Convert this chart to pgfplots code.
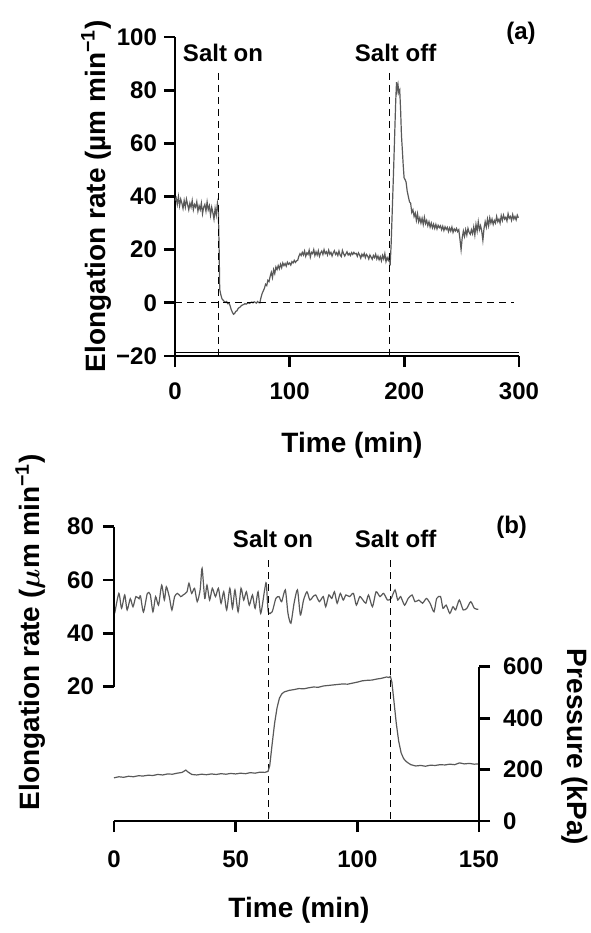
\documentclass[border=0pt]{standalone}
\usepackage{amsmath}
\usepackage{fontspec}
\setmainfont{Liberation Sans}
\usepackage{pgfplots}
\pgfplotsset{compat=1.18}

% panel (a): elongation rate, 0-300 min
\pgfplotstableread{
t r
0 38.5
1 39.5
2 37
3 40
4 36.5
5 39
6 37.5
7 35.5
8 38.5
9 36
10 39
11 37
12 35
13 37.5
14 36
15 38.5
16 35
17 37
18 36
19 38
20 34.5
21 36.5
22 35
23 37.5
24 33.5
25 36
26 37
27 34.5
28 38
29 35
30 36.5
31 33
32 36
33 34
34 31.5
35 35.5
36 33
37 37.5
37.8 35
38.5 20
39 5
40 3
41 1.5
42 1
43 0.5
44 0.2
45 0.5
46 -0.3
47 0
48 -1
49 -2.5
50 -3.5
51 -4.3
52 -4
53 -3.2
54 -3
55 -2.2
56 -1.8
57 -1.5
58 -1
59 -0.8
60 -0.6
61 -0.3
62 -0.5
63 -0.2
64 0
65 -0.2
66 0.1
67 0.3
68 0
69 0.4
70 0.2
71 -0.1
72 0.5
73 0.1
74 0
75 2
76 3.5
77 4.5
78 5.5
79 7
80 6.5
81 8.5
82 8
83 10
84 11.5
85 9.5
86 12.5
87 11
88 13.5
89 12.5
90 14
91 12.8
92 14.5
93 13.2
94 15
95 14
96 14.8
97 13.8
98 15.3
99 14.5
100 15
101 14.2
102 15.5
103 15
104 16
105 15.2
106 15.8
107 16
108 17.5
109 18.5
110 17.8
111 19
112 18
113 19.5
114 17.5
115 18.8
116 18.2
117 19.8
118 17.2
119 19
120 18.5
121 20
122 17.8
123 19.2
124 18
125 19.6
126 17.5
127 18.8
128 19.5
129 18.2
130 20
131 18.5
132 19.2
133 18
134 19.8
135 18.3
136 19
137 17.6
138 18.8
139 19.6
140 18.2
141 18.9
142 17.8
143 19.5
144 18
145 17.4
146 19.7
147 18.5
148 17.6
149 18.4
150 19.2
151 18
152 18.6
153 17.8
154 18.9
155 18.2
156 19
157 18.4
158 18.6
159 17.5
160 18.8
161 18
162 16.8
163 18.3
164 17.5
165 18.6
166 17
167 18.2
168 17.6
169 16.5
170 18
171 17.2
172 16.4
173 17.8
174 17
175 18.3
176 16.5
177 17.6
178 16.2
179 17.4
180 15.8
181 17.8
182 16.5
183 18.5
184 15.5
185 17
186 16
187 17.5
187.6 14
188.5 22
189.5 35
190.5 48
191.5 62
192.5 76
193.2 83
193.8 80
194.5 82
195.2 79
196 80
196.8 72
197.5 63
198.2 58
199 52
199.8 47
200.5 46.5
201.5 45.5
202.5 42
203.5 40
204.5 38
205.5 37.5
206.5 34
207.5 35
208.5 32.5
209.5 33.8
210.5 31
211.5 33.5
212.5 30.5
213.5 32
214.5 30
215.5 31.8
216.5 29.5
217.5 32.2
218.5 29.8
219.5 31
220.5 29
221.5 30.5
222.5 28.5
223.5 30
224.5 28.2
225.5 29.6
226.5 28
227.5 29.5
228.5 27.8
229.5 29.2
230.5 28.3
231.5 29
232.5 27.5
233.5 28.8
234.5 27.2
235.5 28.6
236.5 27.6
237.5 28.4
238.5 26.8
239.5 28.2
240.5 27
241.5 28.5
242.5 26.5
243.5 27.8
244.5 27
245.5 28
246.5 26.8
247.5 27.5
248.5 24
249.5 20
250.5 24.5
251.5 27
252.5 25
253.5 27.5
254.5 25.5
255.5 28
256.5 26.5
257.5 25.8
258.5 27.5
259.5 26
260.5 28.5
261.5 25.5
262.5 29.5
263.5 27
264.5 30.5
265.5 27.5
266.5 29
267.5 27
268.5 23.5
269.5 28
270.5 30.5
271.5 28.5
272.5 31.5
273.5 29
274.5 32
275.5 30
276.5 31.5
277.5 29.5
278.5 31
279.5 30
280.5 32.5
281.5 30.5
282.5 31.5
283.5 30
284.5 32.8
285.5 31
286.5 33
287.5 31.5
288.5 32.2
289.5 30.8
290.5 33.5
291.5 31.8
292.5 32.5
293.5 31
294.5 33.2
295.5 31.5
296.5 32.5
297.5 31.2
298.5 33
299.5 32
}\rateA

% panel (b): elongation rate, 0-150 min
\pgfplotstableread{
t r
0.3 47.5
2 55
3.1 49.4
4.4 54.4
5.4 48.8
6.7 53
7.8 50
9 53.8
10.3 53
10.9 54
12.1 48
13.7 55
14.9 54.6
16 48.1
17.1 53.8
18.3 50.6
19.6 58.1
20.7 52.5
21.5 57.5
22.7 53.8
23.8 48.8
24.9 53.8
26.1 55
27.4 53.8
28.4 54.4
30 55.6
30.8 58.8
31.9 55
33.1 56.9
34.2 51.9
35.4 56.3
36.2 64.4
37.3 53.1
38.2 58.1
39.3 52.5
40.4 56.9
41.7 53.8
42.9 56.9
44 51.3
45.1 55.6
46.3 48.8
47.6 56.9
48.7 49.4
49.7 56.3
51 48.1
52.2 56.9
53.3 52.5
54.4 55.6
55.6 50.6
56.9 54.4
58 49.4
59.2 55.6
60.3 47.5
61.9 56.3
62.6 58.8
63.4 48.1
65 48.1
66.5 53.1
67.8 53.8
68.9 51.9
70.4 56.3
71.5 47.5
72.7 43.8
74 51.3
75.4 56.3
76.6 46.9
77.9 52.5
79.3 55.6
80.5 52.5
81.8 53.8
82.9 54.4
84.4 51.9
86 53.8
87 50
88.3 54.4
89.5 53.1
90.6 55.6
91.7 51.3
93 55
94.2 52.5
95.3 54.4
96.8 53.8
98.4 55
99.6 50.6
101 53.8
102.3 52.5
103.5 51.3
104.6 54.4
106.2 50
107.7 55.6
109.3 53.8
110.8 55
112.4 52.5
113.9 53.1
115.5 56.3
116.6 52.5
117.8 53.8
119.4 50.6
120.9 53.1
122.5 54.4
123.7 51.9
125.3 52.5
126.8 51.3
128.4 53.1
129.9 51.3
131.5 48.1
132.6 53.1
134.2 53.8
135.2 49.4
136.5 50.6
138 47.5
139.3 50
140.4 48.8
141.9 52.5
143.5 48.8
145 49.4
146.6 51.9
148.1 49.4
149.7 49
}\rateB

% panel (b): pressure (kPa)
\pgfplotstableread{
t p
0 168
2 172
4 170
6 174
8 172
10 176
12 175
14 178
16 177
18 181
20 179
22 183
24 182
26 186
28 189
29.5 198
30.5 190
32 181
34 179
36 182
38 180
40 183
42 181
44 184
46 182
48 185
50 183
52 186
54 184
56 188
58 186
60 190
62 189
63.3 193
64 215
65 300
66 380
67 440
68 478
69 495
70 502
72 508
74 511
76 515
78 514
80 518
82 521
84 520
86 525
88 527
90 529
92 531
94 533
96 532
98 536
100 540
102 545
104 547
106 548
108 552
110 555
112 560
113 558
113.6 562
114.2 540
115 470
116 380
117 310
118 265
119 243
120 232
121 225
122 219
124 214
126 216
128 213
130 217
132 216
134 219
136 218
138 221
140 219
142 226
144 222
146 224
148 221
150 222
}\press

\begin{document}
\begin{tikzpicture}
\path[use as bounding box] (0,0) rectangle (295pt,-466.5pt);
\pgfplotsset{
  base/.style={scale only axis, clip=false,
    axis line style={line width=1.4pt},
    tick style={line width=1.4pt,black},
    major tick length=5.5pt, tick align=outside,
    ticklabel style={font=\fontsize{12}{14}\selectfont\bfseries},
    /pgf/number format/assume math mode=true},
}
\tikzset{
  trace/.style={black!65, line width=0.6pt},
  dsh/.style={black, line width=0.5pt, dash pattern=on 3.5pt off 2.5pt},
}

% ---- (a)
\begin{axis}[base, at={(87.5pt,-178pt)}, anchor=south west,
  width=172pt, height=159.5pt,
  xmin=0, xmax=300, ymin=-20, ymax=100,
  axis x line*=bottom, axis y line*=left,
  xticklabel style={yshift=-4.5pt},
  xtick={0,100,200,300}, ytick={-20,0,20,40,60,80,100},
  yticklabels={−20,0,20,40,60,80,100}]
\addplot[trace] table[x=t,y=r] {\rateA};
\draw[dsh] (axis cs:0,0) -- (axis cs:296,0);
\draw[dsh] (axis cs:38,86.5) -- (axis cs:38,-20);
\draw[dsh] (axis cs:187.5,86.5) -- (axis cs:187.5,-20);
\draw[line width=0.6pt] (axis cs:0,-18.8) -- (axis cs:300,-18.8);
\end{axis}

% ---- (b) left: elongation rate
\begin{axis}[base, at={(57pt,-410.5pt)}, anchor=south west,
  width=182.5pt, height=147.15pt,
  xmin=0, xmax=150, ymin=-30.36, ymax=80,
  axis x line*=bottom, axis y line*=left,
  y axis line style={draw=none},
  xticklabel style={yshift=-6pt},
  yticklabel style={xshift=-1pt},
  xtick={0,50,100,150}, ytick={20,40,60,80}]
\addplot[trace, smooth, tension=0.4] table[x=t,y=r] {\rateB};
\draw[line width=1.4pt] (axis cs:0,20) -- (axis cs:0,80);
\draw[dsh] (axis cs:63.3,67.5) -- (axis cs:63.3,-30.36);
\draw[dsh] (axis cs:113.6,67.5) -- (axis cs:113.6,-30.36);
\end{axis}

% ---- (b) right: pressure
\begin{axis}[base, at={(57pt,-410.5pt)}, anchor=south west,
  width=182.5pt, height=147.15pt,
  xmin=0, xmax=150, ymin=0, ymax=1144.3,
  axis x line=none, axis y line*=right,
  y axis line style={draw=none},
  yticklabel style={xshift=3pt},
  ytick={0,200,400,600}]
\addplot[trace] table[x=t,y=p] {\press};
\draw[line width=1.4pt] (axis cs:150,0) -- (axis cs:150,600);
\end{axis}

% labels
\begin{scope}[every node/.style={font=\fontsize{12}{14}\selectfont\bfseries}]
\node at (111.5pt,-26.5pt) {Salt on};
\node at (197.8pt,-26.5pt) {Salt off};
\node at (260.5pt,-16.5pt) {(a)};
\node at (136.5pt,-269.5pt) {Salt on};
\node at (197.8pt,-269.5pt) {Salt off};
\node at (255.8pt,-263.5pt) {(b)};
\end{scope}
\begin{scope}[every node/.style={font=\fontsize{14}{16}\selectfont\bfseries}]
\node[rotate=90] at (48pt,-98pt) {Elongation rate (µm min\textsuperscript{−1})};
\node at (176pt,-222.5pt) {Time (min)};
\node[rotate=90] at (15.2pt,-316pt) {Elongation rate ($\boldsymbol{\mu}$m min\textsuperscript{−1})};
\node[rotate=-90] at (287.5pt,-373.5pt) {Pressure (kPa)};
\node at (149.5pt,-455pt) {Time (min)};
\end{scope}
\end{tikzpicture}
\end{document}
